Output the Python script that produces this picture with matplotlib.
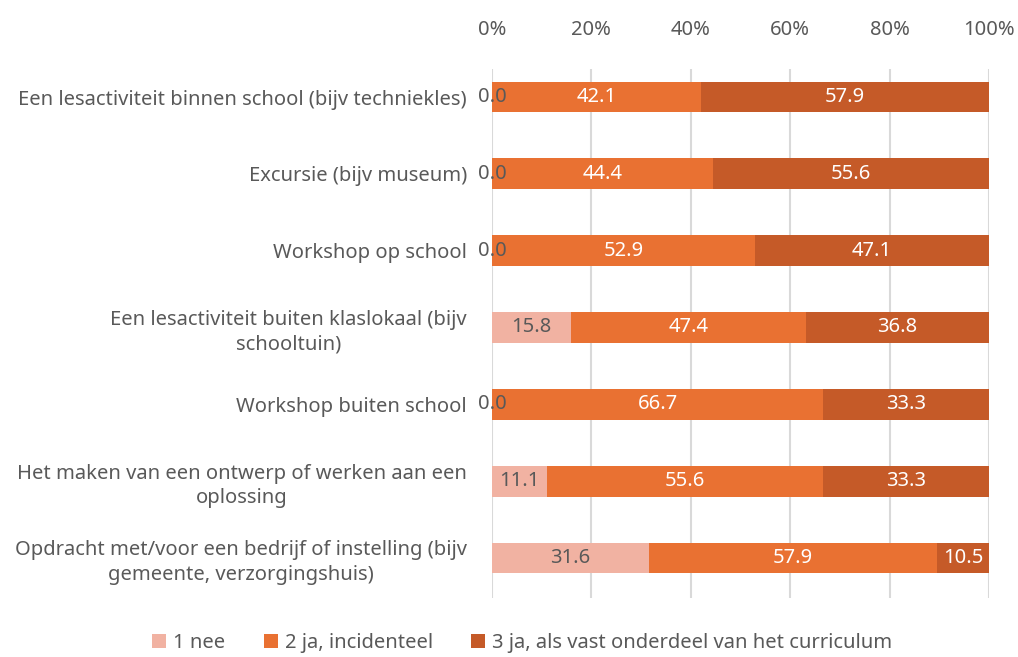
import matplotlib
matplotlib.use("Agg")
import matplotlib.pyplot as plt
import numpy as np

categories = [
    "Een lesactiviteit binnen school (bijv techniekles)",
    "Excursie (bijv museum)",
    "Workshop op school",
    "Een lesactiviteit buiten klaslokaal (bijv\nschooltuin)",
    "Workshop buiten school",
    "Het maken van een ontwerp of werken aan een\noplossing",
    "Opdracht met/voor een bedrijf of instelling (bijv\ngemeente, verzorgingshuis)",
]
nee = [0.0, 0.0, 0.0, 15.8, 0.0, 11.1, 31.6]
incidenteel = [42.1, 44.4, 52.9, 47.4, 66.7, 55.6, 57.9]
vast = [57.9, 55.6, 47.1, 36.8, 33.3, 33.3, 10.5]
series_names = ["1 nee", "2 ja, incidenteel", "3 ja, als vast onderdeel van het curriculum"]
colors = ["#F1B2A2", "#E97132", "#C55A28"]
label_colors = ["#595959", "white", "white"]
xticks = [0, 20, 40, 60, 80, 100]

plt.rcParams['font.family'] = ['Noto Sans', 'DejaVu Sans']
FS = 14.5
fig = plt.figure(figsize=(10.18, 6.57), dpi=100)
ax = fig.add_axes([492/1018, 1-598/657, (989-492)/1018, (598-69)/657])

n = len(categories)
y = np.arange(n)
left = np.zeros(n)
for vals, c, lc, name in zip([nee, incidenteel, vast], colors, label_colors, series_names):
    vals = np.array(vals)
    ax.barh(y, vals, left=left, height=0.4, color=c, label=name, zorder=3)
    for yi, l, v in zip(y, left, vals):
        ax.text(l + v/2, yi, f"{v:.1f}", ha='center', va='center', color=lc,
                fontsize=FS, zorder=4)
    left = left + vals

ax.set_xlim(0, 100)
ax.set_ylim(6 + 40/76.8, -28/76.8)
ax.set_yticks(y)
ax.set_yticklabels(categories, multialignment='center', linespacing=1.3)
ax.set_xticks(xticks)
ax.set_xticklabels([f"{t}%" for t in xticks])
ax.xaxis.tick_top()
ax.tick_params(axis='both', length=0, labelsize=FS, colors='#595959')
ax.tick_params(axis='x', pad=21)
ax.tick_params(axis='y', pad=18)
ax.grid(axis='x', color='#D9D9D9', linewidth=1.5, zorder=0)
for s in ax.spines.values():
    s.set_visible(False)

leg = fig.legend(loc='lower center', bbox_to_anchor=(0.513, -0.022), ncol=3, frameon=False,
                 fontsize=FS, handlelength=0.7, handleheight=0.7, columnspacing=1.9,
                 handletextpad=0.35)
for t in leg.get_texts():
    t.set_color('#595959')

fig.savefig("out.png", dpi=100)
